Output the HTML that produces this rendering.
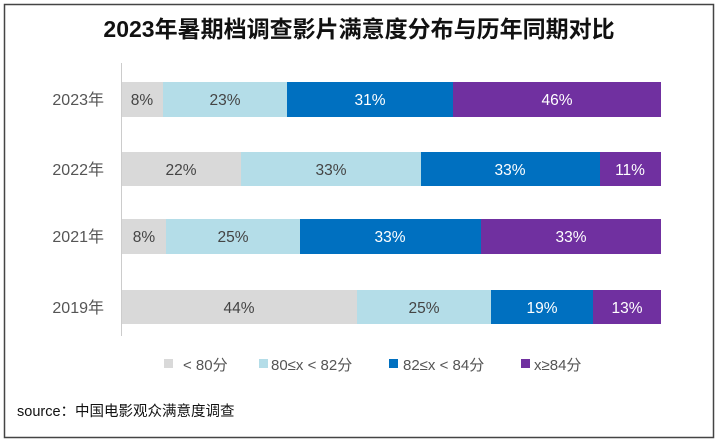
<!DOCTYPE html>
<html><head><meta charset="utf-8"><style>
body{margin:0;width:719px;height:443px;background:#fff;overflow:hidden}
text{font-family:"Liberation Sans","Noto Sans CJK SC",sans-serif}
</style></head><body>
<svg width="719" height="443" xmlns="http://www.w3.org/2000/svg">
<rect x="4.5" y="4.5" width="709" height="433" fill="#fff" stroke="#444" stroke-width="1.5"/>
<text x="359" y="37" text-anchor="middle" font-size="23" font-weight="bold" fill="#111">2023年暑期档调查影片满意度分布与历年同期对比</text>
<line x1="121.5" y1="63" x2="121.5" y2="336" stroke="#ccc"/>
<g font-size="16" fill="#555" text-anchor="end">
<text x="104" y="105">2023年</text><text x="104" y="175">2022年</text><text x="104" y="242">2021年</text><text x="104" y="313">2019年</text>
</g>
<g>
<rect x="122" y="82" width="41" height="35" fill="#d9d9d9"/><rect x="163" y="82" width="124" height="35" fill="#b4dde8"/><rect x="287" y="82" width="166" height="35" fill="#0070c0"/><rect x="453" y="82" width="208" height="35" fill="#7030a0"/>
<rect x="122" y="152" width="119" height="34" fill="#d9d9d9"/><rect x="241" y="152" width="180" height="34" fill="#b4dde8"/><rect x="421" y="152" width="179" height="34" fill="#0070c0"/><rect x="600" y="152" width="61" height="34" fill="#7030a0"/>
<rect x="122" y="219" width="44" height="35" fill="#d9d9d9"/><rect x="166" y="219" width="134" height="35" fill="#b4dde8"/><rect x="300" y="219" width="181" height="35" fill="#0070c0"/><rect x="481" y="219" width="180" height="35" fill="#7030a0"/>
<rect x="122" y="290" width="235" height="34" fill="#d9d9d9"/><rect x="357" y="290" width="134" height="34" fill="#b4dde8"/><rect x="491" y="290" width="102" height="34" fill="#0070c0"/><rect x="593" y="290" width="68" height="34" fill="#7030a0"/>
</g>
<g font-size="15.5" text-anchor="middle">
<text x="142" y="105" fill="#444">8%</text><text x="225" y="105" fill="#444">23%</text><text x="370" y="105" fill="#fff">31%</text><text x="557" y="105" fill="#fff">46%</text>
<text x="181" y="175" fill="#444">22%</text><text x="331" y="175" fill="#444">33%</text><text x="510" y="175" fill="#fff">33%</text><text x="630" y="175" fill="#fff">11%</text>
<text x="144" y="242" fill="#444">8%</text><text x="233" y="242" fill="#444">25%</text><text x="390" y="242" fill="#fff">33%</text><text x="571" y="242" fill="#fff">33%</text>
<text x="239" y="313" fill="#444">44%</text><text x="424" y="313" fill="#444">25%</text><text x="542" y="313" fill="#fff">19%</text><text x="627" y="313" fill="#fff">13%</text>
</g>
<g font-size="15" fill="#555">
<rect x="164" y="359" width="9" height="9" fill="#d9d9d9"/><text x="183" y="370">&lt; 80分</text>
<rect x="259" y="359" width="9" height="9" fill="#b4dde8"/><text x="271" y="370">80≤x &lt; 82分</text>
<rect x="389" y="359" width="9" height="9" fill="#0070c0"/><text x="403" y="370">82≤x &lt; 84分</text>
<rect x="521" y="359" width="9" height="9" fill="#7030a0"/><text x="534" y="370">x≥84分</text>
</g>
<text x="17" y="416" font-size="14.5" fill="#111">source：中国电影观众满意度调查</text>
</svg>
</body></html>
